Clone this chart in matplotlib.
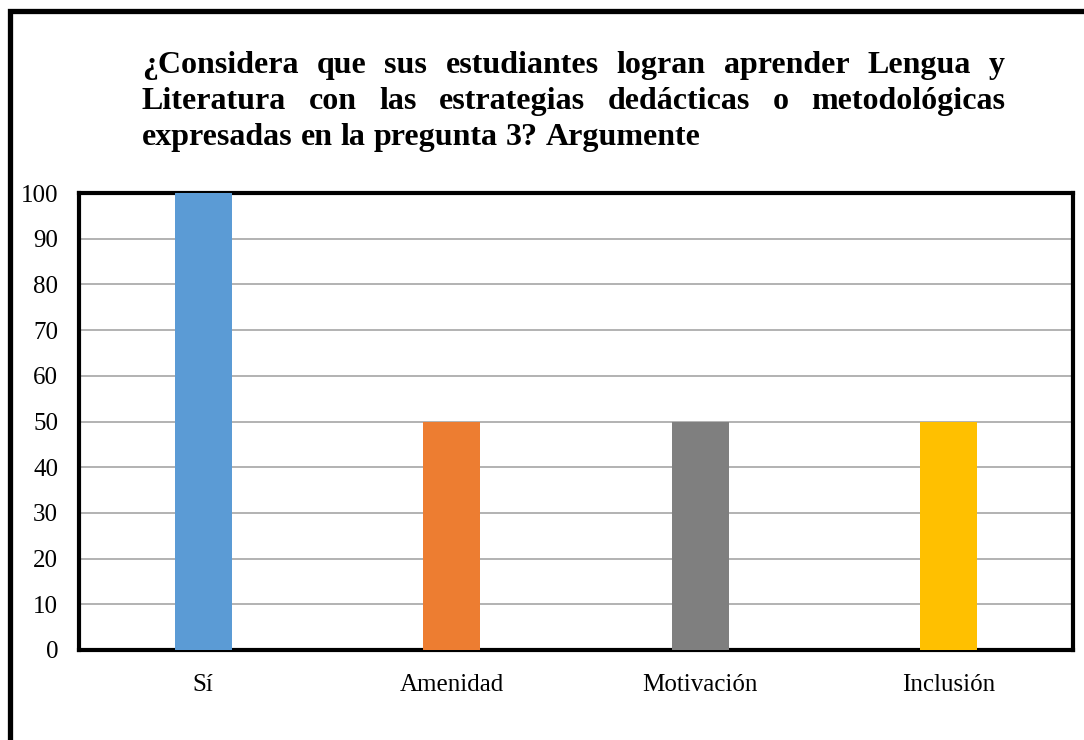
import numpy as np
import matplotlib
matplotlib.use("Agg")
import matplotlib.pyplot as plt
from matplotlib.patches import Rectangle

plt.rcParams['font.family'] = ['Liberation Serif', 'DejaVu Serif']

#------------------------------------------------------------------
CATEGORIES = ["Sí", "Amenidad", "Motivación", "Inclusión"]
VALUES = [100, 50, 50, 50]
COLORS = ["#5B9BD5", "#ED7D31", "#7F7F7F", "#FFC000"]
YTICKS = [0, 10, 20, 30, 40, 50, 60, 70, 80, 90, 100]
TITLE_LINES = [
    "¿Considera que sus estudiantes logran aprender Lengua y",
    "Literatura con las estrategias dedácticas o metodológicas",
    "expresadas en la pregunta 3? Argumente",
]
TITLE_SIZE = 23
TICK_SIZE = 18
#------------------------------------------------------------------

W, H = 1084, 740
fig = plt.figure(figsize=(W / 100, H / 100), dpi=100)

# outer frame (cut by right and bottom image edges)
fig.patches.append(Rectangle((9.5 / W, -0.05), 1.2, 1 - 11 / H + 0.05,
                             transform=fig.transFigure, fill=False,
                             edgecolor="black", linewidth=3.8, zorder=0))

ax = fig.add_axes([79 / W, 1 - 650 / H, (1073 - 79) / W, (650 - 193) / H])
x = np.arange(len(CATEGORIES))
ax.bar(x, VALUES, width=0.23, color=COLORS, zorder=3)
ax.set_xlim(-0.5, len(CATEGORIES) - 0.5)
ax.set_ylim(0, 100)
ax.set_yticks(YTICKS)
ax.set_xticks(x)
ax.set_xticklabels(CATEGORIES)
ax.tick_params(length=0, labelsize=TICK_SIZE)
ax.tick_params(axis="y", pad=15)
ax.tick_params(axis="x", pad=17)
ax.yaxis.grid(True, color="#A6A6A6", linewidth=1.2, zorder=0)
ax.set_axisbelow(True)
for sp in ax.spines.values():
    sp.set_linewidth(3)
    sp.set_color("black")

# justified title, drawn word by word
renderer = fig.canvas.get_renderer()
left, right = 142 / W, 1005 / W
baselines = [73, 109, 145]
for i, line in enumerate(TITLE_LINES):
    words = line.split(" ")
    texts = [fig.text(0, 1 - baselines[i] / H, w, fontsize=TITLE_SIZE,
                      fontweight="bold", va="baseline", ha="left") for w in words]
    widths = [t.get_window_extent(renderer).width / W for t in texts]
    if i < len(TITLE_LINES) - 1:
        gap = (right - left - sum(widths)) / (len(words) - 1)
    else:
        sp = fig.text(0, 0, "a a", fontsize=TITLE_SIZE, fontweight="bold")
        sa = fig.text(0, 0, "aa", fontsize=TITLE_SIZE, fontweight="bold")
        gap = (sp.get_window_extent(renderer).width - sa.get_window_extent(renderer).width) / W
        sp.remove()
        sa.remove()
    pos = left
    for t, w in zip(texts, widths):
        t.set_x(pos)
        pos += w + gap

plt.savefig("out.png", dpi=100)
